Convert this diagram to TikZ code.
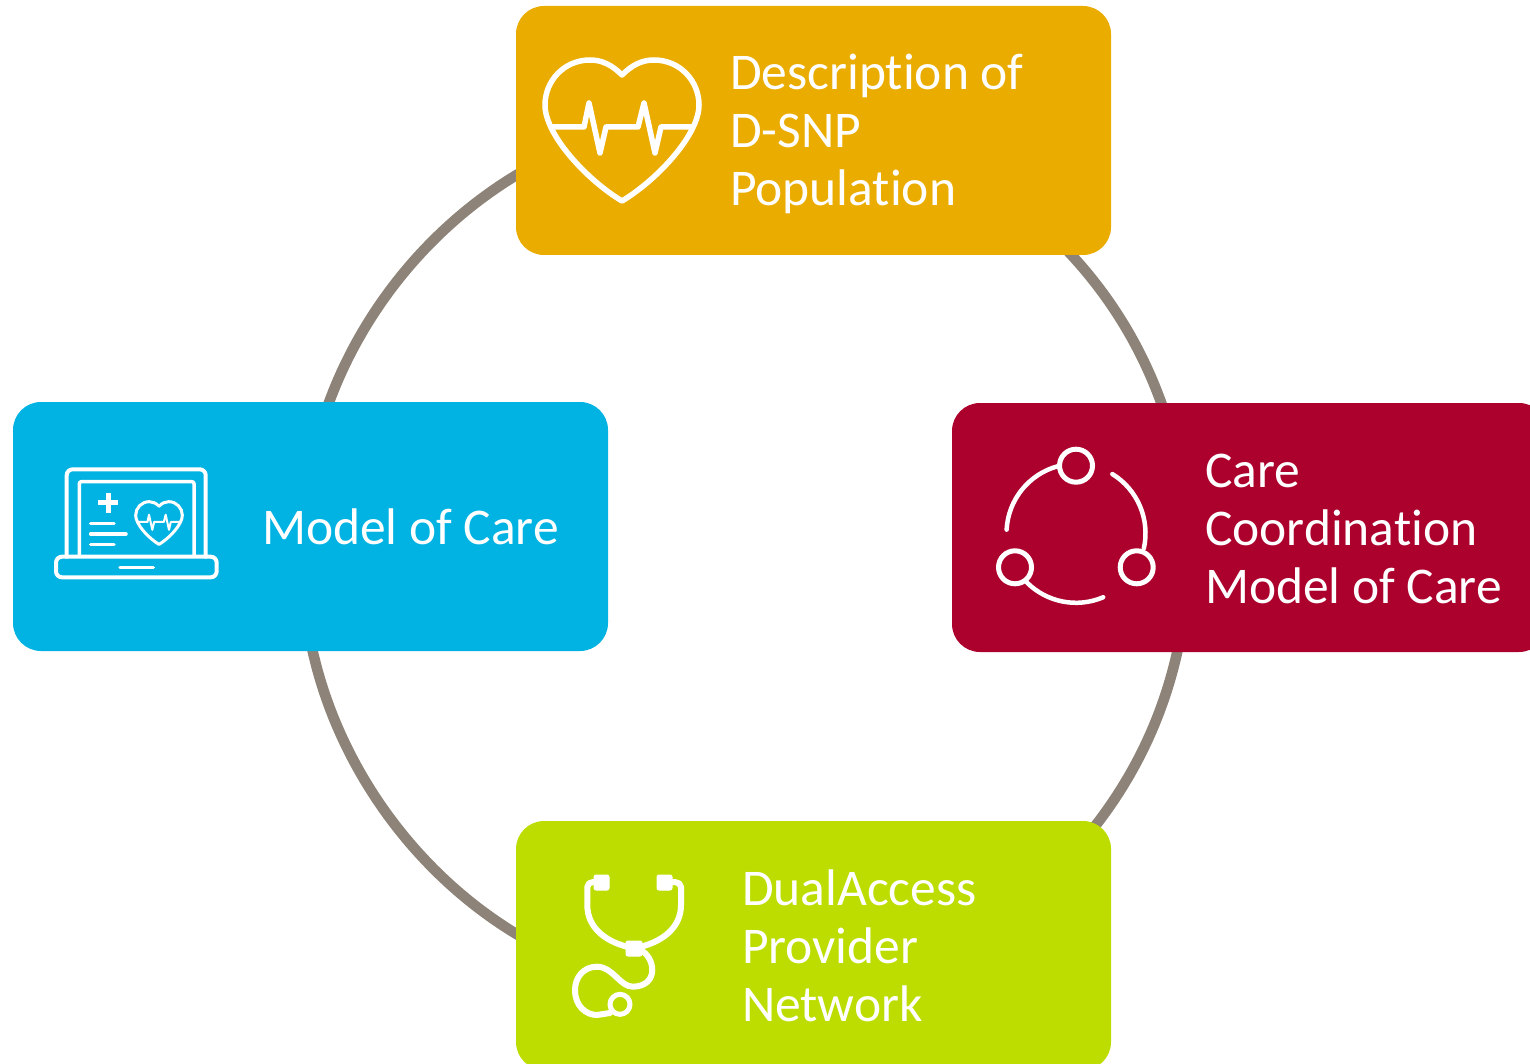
\documentclass[tikz,border=0pt]{standalone}
\usepackage{fontspec}
\setmainfont[Ligatures=NoCommon]{Carlito}
\usetikzlibrary{positioning,backgrounds}
\tikzstyle{box}=[rectangle,rounded corners=28pt,minimum width=595pt,minimum height=249pt,inner sep=0pt]
\tikzstyle{boxtext}=[anchor=west,inner sep=0pt,align=left,text=white,font=\fontsize{51.5}{58}\selectfont]
\tikzstyle{ringline}=[draw=ringgray,line width=10.5pt,looseness=0.88]
\tikzstyle{icon}=[draw=white,line width=5.5pt,line cap=round,line join=round]
\definecolor{dsnpyellow}{HTML}{EBAC00}
\definecolor{mocblue}{HTML}{00B3E3}
\definecolor{carered}{HTML}{AC002D}
\definecolor{accessgreen}{HTML}{BDDD00}
\definecolor{ringgray}{HTML}{8D8378}
\tikzset{
  heartoutline/.pic={
    \draw[pic actions] (0,-30) .. controls (10,-40) and (20,-45) .. (32,-45)
      .. controls (58,-45) and (77,-24) .. (77,0)
      .. controls (77,30) and (35,75) .. (0,96)
      .. controls (-35,75) and (-77,30) .. (-77,0)
      .. controls (-77,-24) and (-58,-45) .. (-32,-45)
      .. controls (-20,-45) and (-10,-40) .. cycle;
  },
  heartbeat/.pic={
    \draw[pic actions] (-70,22) -- (-38,22) -- (-33,-2) -- (-22,48) -- (-16,22) -- (16,22) -- (22,-2) -- (33,48) -- (39,22) -- (70,22);
  }
}
\begin{document}
\begin{tikzpicture}[x=1pt,y=-1pt]
    \useasboundingbox (0,0) rectangle (1530,1064);
    \node (Moc) [box,fill=mocblue] at (310.5,526.5) {};
    \node (Care) [box,fill=carered,yshift=-1pt] [right of=Moc,node distance=939pt] {};
    \node (Dsnp) [box,fill=dsnpyellow] at (813.5,130.5) {};
    \node (Access) [box,fill=accessgreen] [below of=Dsnp,node distance=815pt] {};

    \node (DsnpText) [boxtext,yshift=-3pt] at ([xshift=214pt]Dsnp.west) {Description of\\D-SNP\\Population};
    \node (MocText) [boxtext] at ([xshift=249pt]Moc.west) {Model of Care};
    \node (CareText) [boxtext,yshift=-1pt] at ([xshift=253pt]Care.west) {Care\\Coordination\\Model of Care};
    \node (AccessText) [boxtext] at ([xshift=226pt]Access.west) {DualAccess\\Provider\\Network};

    \begin{pgfonlayer}{background}
        \draw[ringline] ([xshift=233.6pt,yshift=-100pt]Dsnp.center) to[bend left=15] ([xshift=-80.9pt,yshift=102.5pt]Care.center);
        \draw[ringline] ([xshift=-65.8pt,yshift=-88.7pt]Care.center) to[bend left=17] ([xshift=260.7pt,yshift=94.5pt]Access.center);
        \draw[ringline] ([xshift=-283.3pt,yshift=3.5pt]Access.center) to[bend left=25.5] ([xshift=-1.8pt,yshift=-104.9pt]Moc.center);
        \draw[ringline] ([xshift=6.6pt,yshift=86.7pt]Moc.center) to[bend left=23.5] ([xshift=-276.5pt,yshift=-32.9pt]Dsnp.center);
    \end{pgfonlayer}

    % heart
    \pic[icon] at (622,105) {heartoutline};
    \pic[icon] at (622,105) {heartbeat};

    % laptop
    \draw[icon,line width=4pt,rounded corners=6pt] (66.7,556.7) -- (66.7,469.3) -- (205.7,469.3) -- (205.7,556.7);
    \draw[icon,line width=3.5pt,rounded corners=2pt] (79.3,556) -- (79.3,481.7) -- (194,481.7) -- (194,556);
    \draw[icon,line width=4pt,rounded corners=6pt] (56,556.7) -- (216.7,556.7) -- (216.7,577.3) -- (56,577.3) -- cycle;
    \draw[icon,line width=3.5pt] (120,567.3) -- (153.3,567.3);
    \draw[icon,line width=4.5pt,line cap=butt] (98.3,502.7) -- (118.3,502.7) (108.3,492.7) -- (108.3,512.7);
    \draw[icon,line width=3.5pt] (90.7,523.7) -- (114,523.7) (90.7,534) -- (126,534) (90.7,544.3) -- (114,544.3);
    \pic[icon,line width=3pt,scale=0.303] at (159,515.3) {heartoutline};
    \pic[icon,line width=2pt,scale=0.303] at (159,515.3) {heartbeat};

    % three circles
    \draw[icon,line width=5pt] (1076,465.7) circle (16.5) (1015,567.3) circle (16.5) (1136.7,567.3) circle (16.5);
    \draw[icon,line width=4.5pt] (1076,533.3) ++(-177:69.5) arc[start angle=-177,end angle=-105,radius=69.5];
    \draw[icon,line width=4.5pt] (1076,533.3) ++(-58.5:69.5) arc[start angle=-58.5,end angle=12.5,radius=69.5];
    \draw[icon,line width=4.5pt] (1076,533.3) ++(-225:69.5) arc[start angle=-225,end angle=-293,radius=69.5];

    % stethoscope
    \draw[icon,line width=6pt] (597,882) -- (593,882) .. controls (590,882) and (587.3,884) .. (587.3,887) -- (587.3,905)
      .. controls (587.3,928) and (606,943) .. (634,948.3)
      .. controls (662,943) and (681,928) .. (681,905) -- (681,887)
      .. controls (681,884) and (678,882) .. (675,882) -- (668,882);
    \draw[icon,fill=white,rounded corners=2pt,line width=1pt] (594,875) rectangle (609,890) (657,875) rectangle (672,890) (626,941) rectangle (642,956);
    \draw[icon,line width=6pt] (640,950) .. controls (655,956) and (660,986) .. (633,986.7)
      .. controls (620,987) and (613,966.7) .. (597,966.7)
      .. controls (583,966.7) and (575,978) .. (575,990)
      .. controls (575,1006) and (586,1015) .. (597,1015) -- (610,1013);
    \draw[icon,line width=5pt] (620,1004.3) circle (10);
\end{tikzpicture}
\end{document}
